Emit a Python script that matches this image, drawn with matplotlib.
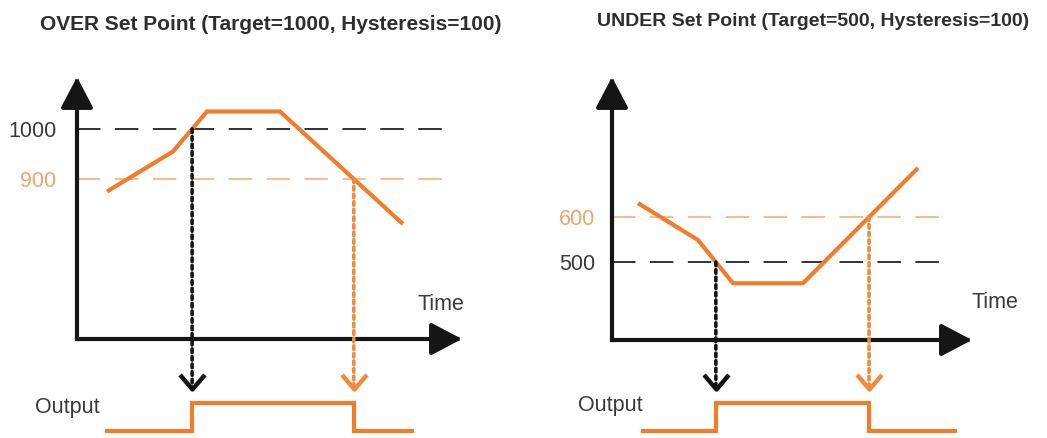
import numpy as np
import matplotlib
matplotlib.use("Agg")
from matplotlib import pyplot as plt
from matplotlib.patches import ConnectionPatch
from matplotlib.markers import MarkerStyle
from matplotlib.path import Path

plt.rcParams['font.family'] = ['Liberation Sans', 'DejaVu Sans']

# over set point: process value vs time
over_t = [3.0, 9.6, 13.0, 20.3, 32.6]
over_v = [875, 955, 1035, 1035, 810]
over_target = 1000
over_hyst = 100
over_out_span = [3.0, 33.5]

# under set point
under_t = [2.6, 8.6, 12.1, 19.1, 30.6]
under_v = [631, 549, 453, 453, 709]
under_target = 500
under_hyst = 100
under_out_span = [3.1, 34.3]

ORANGE = '#f07d2c'
ORANGE_DOT = '#f08a3c'
ORANGE_LIGHT = '#f6b68a'
ORANGE_TXT = '#f0a470'
BLACK = '#151515'
GREY = '#3a3a3a'

W, H = 1047, 438


def frac(x0, x1, y0, y1):
    # px box (top-left origin) -> figure fraction rect
    return [x0 / W, 1 - y1 / H, (x1 - x0) / W, (y1 - y0) / H]


def crossing(t, v, level, rising):
    for i in range(len(t) - 1):
        a, b = v[i], v[i + 1]
        if rising and a < level <= b or (not rising) and a > level >= b:
            return t[i] + (level - a) * (t[i + 1] - t[i]) / (b - a)
    return None


chev = MarkerStyle(Path([(-0.85, 1.0), (0.0, 0.0), (0.85, 1.0)]), joinstyle='miter')


def panel(fig, box, obox, t, v, xmax, ylim, ticks, tick_cols, dash_end, on, off,
          out_span, pad):
    ax = fig.add_axes(frac(*box))
    ax.set_xlim(0, xmax)
    ax.set_ylim(*ylim)
    for s in ax.spines.values():
        s.set_visible(False)
    ax.set_xticks([])
    ax.set_yticks(ticks)
    ax.set_yticklabels([str(k) for k in ticks], fontsize=15.5)
    ax.tick_params(axis='y', length=0, pad=pad)
    for lab, c in zip(ax.get_yticklabels(), tick_cols):
        lab.set_color(c)
    ax.patch.set_visible(False)

    # axis arrows
    ap = dict(arrowstyle='-|>,head_length=0.95,head_width=0.5', lw=3, color=BLACK,
              shrinkA=0, shrinkB=0, mutation_scale=20, capstyle='projecting')
    ax.annotate('', xy=(1, 0), xytext=(0, 0), xycoords='axes fraction', arrowprops=ap)
    ax.annotate('', xy=(0, 1), xytext=(0, 0), xycoords='axes fraction', arrowprops=ap)

    # set point lines
    for k, c in zip(ticks, tick_cols):
        col = ORANGE_LIGHT if c != GREY else '#222222'
        ax.hlines(k, 0, dash_end, colors=col, lw=1.3, linestyles=(0, (13, 8)))

    ax.plot(t, v, color=ORANGE, lw=3, solid_joinstyle='miter', solid_capstyle='butt')

    oax = fig.add_axes(frac(*obox))
    oax.set_xlim(0, xmax)
    lo_px, hi_px, tip_px = 431, 403, 389
    unit = lo_px - hi_px
    oax.set_ylim(-(438 - lo_px) / unit, 1 + (hi_px - obox[2]) / unit)
    oax.axis('off')
    tip = (lo_px - tip_px) / unit

    t_on, lvl_on = on
    t_off, lvl_off = off
    ox = [out_span[0], t_on, t_off, out_span[1]]
    oy = [0, 1, 0, 0]
    oax.plot(ox, oy, drawstyle='steps-post', color=ORANGE, lw=3, solid_joinstyle='miter')

    for (tc, lvl), col in [((t_on, lvl_on), BLACK), ((t_off, lvl_off), ORANGE_DOT)]:
        cp = ConnectionPatch((tc, lvl), (tc, tip), coordsA='data', coordsB='data',
                             axesA=ax, axesB=oax, color=col, lw=2.6,
                             linestyle=(0, (1, 1.1)))
        fig.add_artist(cp)
        oax.plot([tc], [tip], marker=chev, markersize=21, markerfacecolor='none',
                 markeredgecolor=col, markeredgewidth=3.2, clip_on=False)
    return ax, oax


fig = plt.figure(figsize=(W / 100, H / 100), dpi=100)

# left: OVER
on_l = crossing(over_t, over_v, over_target, True)
off_l = crossing(over_t, over_v, over_target - over_hyst, False)
panel(fig, (77, 462, 77, 339), (77, 462, 360, 438), over_t, over_v, 38.5, (580, 1104),
      [over_target, over_target - over_hyst], [GREY, ORANGE_TXT], 37.2,
      (on_l, over_target), (off_l, over_target - over_hyst), over_out_span, 15)

# right: UNDER
on_r = crossing(under_t, under_v, under_target, False)
off_r = crossing(under_t, under_v, under_target + under_hyst, True)
panel(fig, (612, 972, 77, 340), (612, 972, 360, 438), under_t, under_v, 36.0, (327, 911),
      [under_target + under_hyst, under_target], [ORANGE_TXT, GREY], 33.0,
      (on_r, under_target), (off_r, under_target + under_hyst), under_out_span, 12)

fig.text(40 / W, 1 - 24 / H, 'OVER Set Point (Target=1000, Hysteresis=100)',
         fontsize=15, fontweight='bold', color='#2e2e2e', va='center', ha='left')
fig.text(597 / W, 1 - 22 / H, 'UNDER Set Point (Target=500, Hysteresis=100)',
         fontsize=14, fontweight='bold', color='#2e2e2e', va='center', ha='left')

for x, y in [(441, 305), (995, 303)]:
    fig.text(x / W, 1 - y / H, 'Time', fontsize=15.5, color=GREY, ha='center', va='center')
for x, y in [(67, 408), (610, 406)]:
    fig.text(x / W, 1 - y / H, 'Output', fontsize=15.5, color=GREY, ha='center', va='center')

fig.savefig('out.png', dpi=100)
